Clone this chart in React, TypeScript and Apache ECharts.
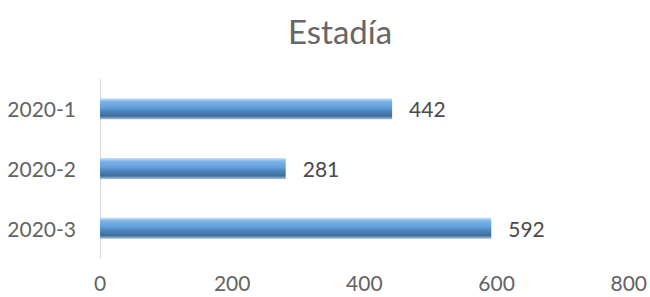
import React, { useEffect, useRef } from "react";
import * as echarts from "echarts";

const title = "Estadía";
const categories = ["2020-1", "2020-2", "2020-3"];
const values = [442, 281, 592];
const xTicks = [0, 200, 400, 600, 800];

export default function App() {
  const ref = useRef<HTMLDivElement>(null);
  useEffect(() => {
    if (!ref.current) return;
    const chart = echarts.init(ref.current, null, { renderer: "svg" });
    const font = "Lato, 'Open Sans', sans-serif";
    chart.setOption({
      animation: false,
      backgroundColor: "#ffffff",
      title: {
        text: title,
        left: 283,
        top: 9,
        textStyle: { fontFamily: font, fontSize: 33, fontWeight: "normal", color: "#666666" },
      },
      grid: { left: 100, right: 20, top: 79, bottom: 39, containLabel: false },
      xAxis: {
        type: "value",
        min: xTicks[0],
        max: xTicks[xTicks.length - 1],
        interval: 200,
        axisLine: { show: false },
        axisTick: { show: false },
        splitLine: { show: false },
        axisLabel: { fontFamily: font, fontSize: 21, color: "#636363", margin: 14 },
      },
      yAxis: {
        type: "category",
        data: categories,
        inverse: true,
        axisLine: { show: true, lineStyle: { color: "#d9d9d9", width: 1 } },
        axisTick: { show: false },
        axisLabel: { fontFamily: font, fontSize: 21, color: "#636363", margin: 24 },
      },
      series: [
        {
          type: "bar",
          data: values,
          barWidth: 21,
          itemStyle: {
            color: new echarts.graphic.LinearGradient(0, 0, 0, 1, [
              { offset: 0, color: "#cfe3f7" },
              { offset: 0.15, color: "#7fb4e6" },
              { offset: 0.45, color: "#5f9fdb" },
              { offset: 0.6, color: "#4f86bd" },
              { offset: 0.85, color: "#3f6e9c" },
              { offset: 1, color: "#a9c4de" },
            ]),
            borderWidth: 0,
          },
          label: {
            show: true,
            position: "right",
            distance: 17,
            fontFamily: font,
            fontSize: 21,
            color: "#4a4a4a",
          },
        },
      ],
    });
    return () => chart.dispose();
  }, []);
  return <div ref={ref} style={{ position: "fixed", top: 0, left: 0, width: 650, height: 297 }} />;
}
